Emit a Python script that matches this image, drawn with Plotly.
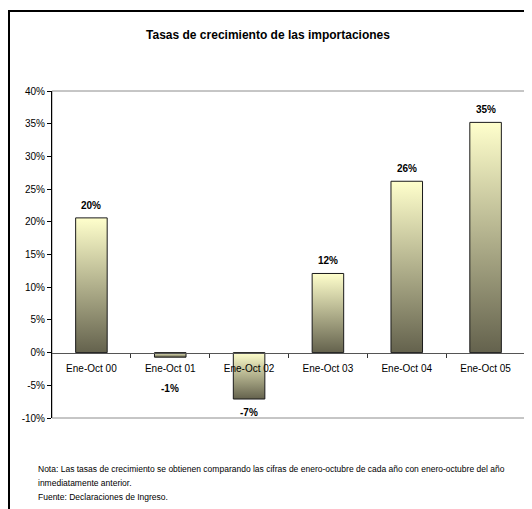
import plotly.graph_objects as go

categories = ["Ene-Oct 00", "Ene-Oct 01", "Ene-Oct 02", "Ene-Oct 03", "Ene-Oct 04", "Ene-Oct 05"]
growth = [20.6, -0.7, -7.1, 12.1, 26.2, 35.2]
value_labels = ["20%", "-1%", "-7%", "12%", "26%", "35%"]
y_ticks = [-10, -5, 0, 5, 10, 15, 20, 25, 30, 35, 40]
y_tick_labels = [f"{v}%" for v in y_ticks]
title_text = "Tasas de crecimiento de las importaciones"
note_lines = [
    "Nota: Las tasas de crecimiento se obtienen comparando las cifras de enero-octubre de cada año con enero-octubre del año",
    "inmediatamente anterior.",
    "Fuente: Declaraciones de Ingreso.",
]

# page has an 8px body margin; figure sized to fit the 532x509 window
OFF = 8
W, H = 532 - OFF, 509 - OFF
ML, MT = 52 - OFF, 91 - OFF
MR = W - (525 - OFF)
MB = H - (418 - OFF)
FONT = "Liberation Sans, Arial, sans-serif"
half = 0.2

pw = W - ML - MR
ph = H - MT - MB
def px_x(p):  # page pixel -> paper fraction
    return (p - OFF - ML) / pw
def px_y(p):
    return (H - MB - (p - OFF)) / ph

fig = go.Figure()
for i, v in enumerate(growth):
    fig.add_trace(go.Scatter(
        x=[i - half, i + half, i + half, i - half, i - half],
        y=[0, 0, v, v, 0],
        mode="lines",
        fill="toself",
        fillgradient=dict(type="vertical", colorscale=[[0, "#64624D"], [1, "#FFFFCC"]]),
        line=dict(color="#1a1a1a", width=1),
        hoverinfo="skip",
        showlegend=False,
    ))

annotations = []
for i, (v, t) in enumerate(zip(growth, value_labels)):
    if v >= 0:
        annotations.append(dict(x=i, y=v, xref="x", yref="y", text=f"<b>{t}</b>",
                                showarrow=False, yanchor="bottom", yshift=5,
                                font=dict(family=FONT, size=10, color="black")))
    else:
        annotations.append(dict(x=i, y=min(v, -3.5), xref="x", yref="y", text=f"<b>{t}</b>",
                                showarrow=False, yanchor="top", yshift=-6,
                                font=dict(family=FONT, size=10, color="black")))

for line, yy in zip(note_lines, [469, 483, 497]):
    annotations.append(dict(x=px_x(36), y=px_y(yy), xref="paper", yref="paper", text=line,
                            showarrow=False, xanchor="left", yanchor="middle",
                            font=dict(family=FONT, size=8.5, color="black")))

shapes = [
    dict(type="rect", xref="paper", yref="paper", x0=0, x1=1, y0=0, y1=1,
         line=dict(color="#8c8c8c", width=1), layer="below"),
    dict(type="rect", xref="paper", yref="paper", x0=px_x(OFF + 1), x1=px_x(545), y0=px_y(530), y1=px_y(11),
         line=dict(color="black", width=2)),
]

fig.update_layout(
    width=W, height=H,
    margin=dict(l=ML, r=MR, t=MT, b=MB),
    paper_bgcolor="white", plot_bgcolor="white",
    title=dict(text=f"<b>{title_text}</b>", x=(268 - OFF) / W, y=1 - (35 - OFF) / H,
               xref="container", yref="container", xanchor="center", yanchor="middle",
               font=dict(family=FONT, size=12, color="black")),
    xaxis=dict(range=[-0.5, 5.5], tickmode="array", tickvals=list(range(len(categories))), ticktext=categories,
               ticks="", showgrid=False, zeroline=False, showline=True, linecolor="#555555", linewidth=1,
               anchor="free", position=0.2, ticklabelstandoff=6,
               minor=dict(tickmode="array", tickvals=[0.5, 1.5, 2.5, 3.5, 4.5], ticks="outside",
                          ticklen=4, tickcolor="#333333", showgrid=False),
               tickfont=dict(family=FONT, size=10, color="black"), fixedrange=True),
    yaxis=dict(range=[-10, 40], tickmode="array", tickvals=y_ticks, ticktext=y_tick_labels,
               ticks="outside", ticklen=4, tickcolor="black", showgrid=False, zeroline=False,
               showline=True, linecolor="black", linewidth=1,
               tickfont=dict(family=FONT, size=10, color="black"), fixedrange=True),
    annotations=annotations,
    shapes=shapes,
)

fig.write_html("out.html")
